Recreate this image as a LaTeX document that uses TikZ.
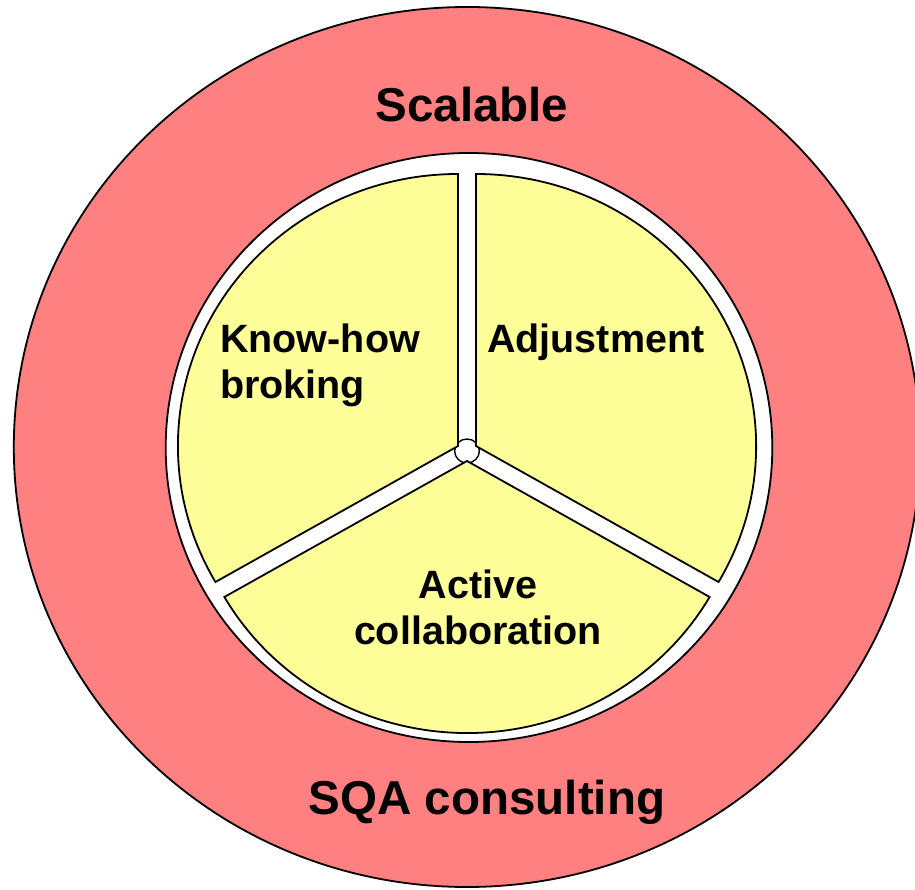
\documentclass[tikz,border=0pt]{standalone}
\usepackage{fontspec}
\setmainfont{Liberation Sans}
\definecolor{ringred}{RGB}{255,128,128}
\definecolor{pieyellow}{RGB}{255,255,153}
\begin{document}
\begin{tikzpicture}[x=1pt,y=1pt,
    border/.style={draw=black,line width=1.8pt},
    bigtext/.style={inner sep=0pt,font=\fontsize{47.5}{57}\selectfont\bfseries},
    smalltext/.style={inner sep=0pt,font=\fontsize{39.5}{46}\selectfont\bfseries}]
        \useasboundingbox (0,0) rectangle (915,889);
        % outer ring and white disc
        \draw[border,fill=ringred] (467,442) ellipse [x radius=453.2,y radius=440];
        \draw[border,fill=white] (469,441.5) ellipse [x radius=303.3,y radius=294.5];
        % three slices
        \begin{scope}[shift={(467,438)},xscale=1.03]
          \draw[border,fill=white,line width=1.4pt] (0,0) circle [radius=12];
          \foreach \a/\b in {90/210,-30/90,210/330}
            \draw[border,fill=pieyellow] ({(\a+\b)/2}:10) -- ++(\a:272)
              arc[start angle=\a,end angle=\b,radius=272] -- cycle;
        \end{scope}
        \node[bigtext,anchor=base] (scalable) at (472,767) {Scalable};
        \node[bigtext,anchor=base] (sqa) at (487,75) {SQA consulting};
        \node[smalltext,anchor=north west,align=left] (knowhow) at (220,565) {Know-how\\broking};
        \node[smalltext,anchor=base west] (adjust) at (487,536) {Adjustment};
        \node[smalltext,anchor=north,align=center] (active) at (478,319) {Active\\collaboration};
      \end{tikzpicture}
\end{document}
